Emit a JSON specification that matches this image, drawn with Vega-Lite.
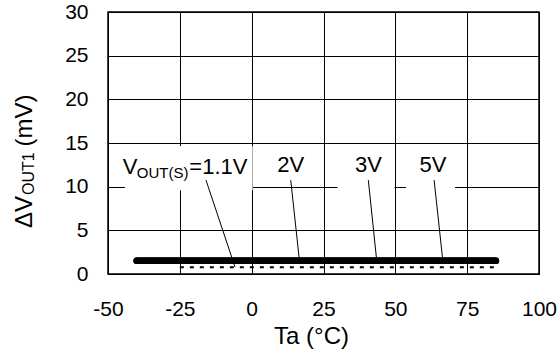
{
  "$schema": "https://vega.github.io/schema/vega-lite/v6.json",
  "width": 431,
  "height": 262,
  "autosize": {"type": "none"},
  "padding": {"left": 108, "top": 12, "right": 20, "bottom": 81},
  "background": "white",
  "config": {
    "view": {"stroke": "black", "strokeWidth": 1.5},
    "font": "Liberation Sans"
  },
  "datasets": {
    "curves": [
      {"series": "1.1V", "ta": -25, "dv": 0.78},
      {"series": "1.1V", "ta": 0, "dv": 0.78},
      {"series": "1.1V", "ta": 25, "dv": 0.78},
      {"series": "1.1V", "ta": 50, "dv": 0.78},
      {"series": "1.1V", "ta": 75, "dv": 0.78},
      {"series": "1.1V", "ta": 85, "dv": 0.78},
      {"series": "2V", "ta": -40, "dv": 1.52},
      {"series": "2V", "ta": -25, "dv": 1.52},
      {"series": "2V", "ta": 0, "dv": 1.52},
      {"series": "2V", "ta": 25, "dv": 1.52},
      {"series": "2V", "ta": 50, "dv": 1.52},
      {"series": "2V", "ta": 75, "dv": 1.52},
      {"series": "2V", "ta": 85, "dv": 1.52},
      {"series": "3V", "ta": -40, "dv": 1.52},
      {"series": "3V", "ta": -25, "dv": 1.52},
      {"series": "3V", "ta": 0, "dv": 1.52},
      {"series": "3V", "ta": 25, "dv": 1.52},
      {"series": "3V", "ta": 50, "dv": 1.52},
      {"series": "3V", "ta": 75, "dv": 1.52},
      {"series": "3V", "ta": 85, "dv": 1.52},
      {"series": "5V", "ta": -40, "dv": 1.52},
      {"series": "5V", "ta": -25, "dv": 1.52},
      {"series": "5V", "ta": 0, "dv": 1.52},
      {"series": "5V", "ta": 25, "dv": 1.52},
      {"series": "5V", "ta": 50, "dv": 1.52},
      {"series": "5V", "ta": 75, "dv": 1.52},
      {"series": "5V", "ta": 85, "dv": 1.52}
    ],
    "boxes": [
      {"x1": -44.1, "x2": 0.35, "y1": 9.6, "y2": 14.65},
      {"x1": 29.9, "x2": 49.75, "y1": 9.6, "y2": 14.65},
      {"x1": 53.7, "x2": 70.8, "y1": 9.6, "y2": 14.65}
    ],
    "leaders": [
      {"x1": -15.9, "y1": 10.75, "x2": -5.8, "y2": 0.8},
      {"x1": 13.6, "y1": 10.75, "x2": 16.6, "y2": 1.6},
      {"x1": 40.6, "y1": 10.75, "x2": 43.5, "y2": 1.6},
      {"x1": 63.5, "y1": 10.75, "x2": 66.5, "y2": 1.6}
    ],
    "bigLabels": [
      {"t": "V", "x": -44.9, "y": 11.43},
      {"t": "=1.1V", "x": -21.7, "y": 11.43},
      {"t": "2V", "x": 8.9, "y": 11.68},
      {"t": "3V", "x": 36.0, "y": 11.68},
      {"t": "5V", "x": 58.4, "y": 11.68}
    ],
    "subLabels": [
      {"t": "OUT(S)", "x": -40.0, "y": 10.94}
    ],
    "yTitle": [
      {"t": "ΔV", "x": -76.6, "y": 5.27},
      {"t": " (mV)", "x": -76.6, "y": 14.6}
    ],
    "yTitleSub": [
      {"t": "OUT1", "x": -75.9, "y": 9.05}
    ]
  },
  "layer": [
    {
      "data": {"name": "boxes"},
      "mark": {"type": "rect", "fill": "white", "stroke": null},
      "encoding": {
        "x": {
          "field": "x1", "type": "quantitative",
          "scale": {"domain": [-50, 100], "nice": false, "zero": false},
          "axis": {
            "values": [-50, -25, 0, 25, 50, 75, 100],
            "labelExpr": "'' + datum.value",
            "labelFlush": false, "labelOverlap": false,
            "grid": true, "gridColor": "black", "gridOpacity": 1, "gridWidth": 1,
            "domain": false, "ticks": false,
            "labelFontSize": 21, "labelColor": "black", "labelPadding": 24, "labelFont": "Liberation Sans",
            "title": "Ta (°C)", "titleFontSize": 24, "titleFontWeight": "normal", "titleColor": "black",
            "titleFont": "Liberation Sans", "titleX": 203, "titleY": 69.5, "titleBaseline": "alphabetic"
          }
        },
        "x2": {"field": "x2"},
        "y": {
          "field": "y1", "type": "quantitative",
          "scale": {"domain": [0, 30], "nice": false},
          "axis": {
            "values": [0, 5, 10, 15, 20, 25, 30],
            "labelExpr": "'' + datum.value",
            "labelFlush": false, "labelOverlap": false,
            "grid": true, "gridColor": "black", "gridOpacity": 1, "gridWidth": 1,
            "domain": false, "ticks": false,
            "labelFontSize": 21, "labelColor": "black", "labelPadding": 20, "labelFont": "Liberation Sans",
            "title": null
          }
        },
        "y2": {"field": "y2"}
      }
    },
    {
      "data": {"name": "curves"},
      "transform": [{"filter": "datum.series == '1.1V'"}],
      "mark": {"type": "line", "color": "black", "strokeWidth": 2, "strokeDash": [4, 6]},
      "encoding": {
        "x": {"field": "ta", "type": "quantitative"},
        "y": {"field": "dv", "type": "quantitative"},
        "detail": {"field": "series"}
      }
    },
    {
      "data": {"name": "curves"},
      "transform": [{"filter": "datum.series != '1.1V'"}],
      "mark": {"type": "line", "color": "black", "strokeWidth": 6.5, "strokeCap": "round"},
      "encoding": {
        "x": {"field": "ta", "type": "quantitative"},
        "y": {"field": "dv", "type": "quantitative"},
        "detail": {"field": "series"}
      }
    },
    {
      "data": {"name": "leaders"},
      "mark": {"type": "rule", "color": "black", "strokeWidth": 1},
      "encoding": {
        "x": {"field": "x1", "type": "quantitative"},
        "y": {"field": "y1", "type": "quantitative"},
        "x2": {"field": "x2"},
        "y2": {"field": "y2"}
      }
    },
    {
      "data": {"name": "bigLabels"},
      "mark": {"type": "text", "fontSize": 22, "align": "left", "baseline": "alphabetic", "color": "black", "font": "Liberation Sans"},
      "encoding": {
        "x": {"field": "x", "type": "quantitative"},
        "y": {"field": "y", "type": "quantitative"},
        "text": {"field": "t"}
      }
    },
    {
      "data": {"name": "subLabels"},
      "mark": {"type": "text", "fontSize": 15, "align": "left", "baseline": "alphabetic", "color": "black", "font": "Liberation Sans"},
      "encoding": {
        "x": {"field": "x", "type": "quantitative"},
        "y": {"field": "y", "type": "quantitative"},
        "text": {"field": "t"}
      }
    },
    {
      "data": {"name": "yTitle"},
      "mark": {"type": "text", "fontSize": 24, "align": "left", "baseline": "alphabetic", "angle": 270, "color": "black", "font": "Liberation Sans"},
      "encoding": {
        "x": {"field": "x", "type": "quantitative"},
        "y": {"field": "y", "type": "quantitative"},
        "text": {"field": "t"}
      }
    },
    {
      "data": {"name": "yTitleSub"},
      "mark": {"type": "text", "fontSize": 16, "align": "left", "baseline": "alphabetic", "angle": 270, "color": "black", "font": "Liberation Sans"},
      "encoding": {
        "x": {"field": "x", "type": "quantitative"},
        "y": {"field": "y", "type": "quantitative"},
        "text": {"field": "t"}
      }
    }
  ]
}
